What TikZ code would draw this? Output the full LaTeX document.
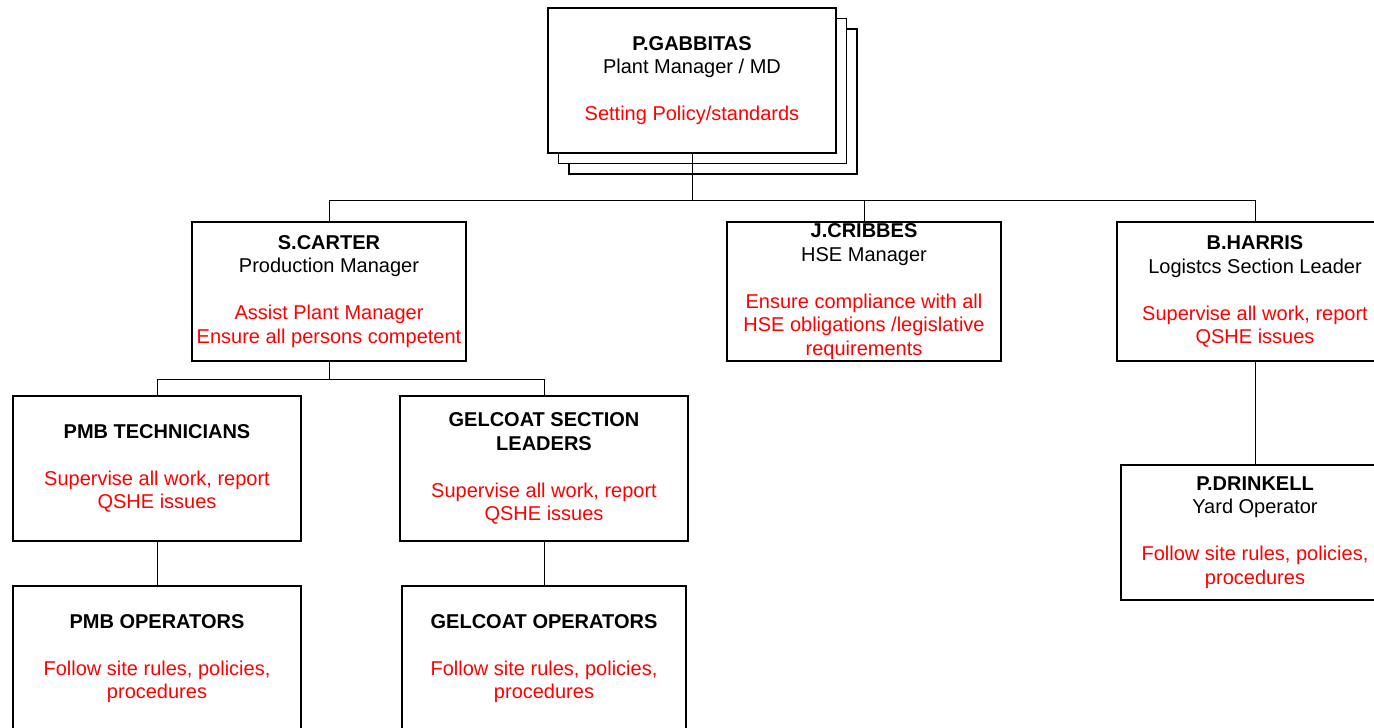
\documentclass[tikz,border=0pt]{standalone}
\usepackage{fontspec}
\setmainfont{Liberation Sans}
\begin{document}
\begin{tikzpicture}[x=1pt,y=-1pt,
  box/.style={draw=black,line width=1.4pt,fill=white,inner sep=0pt,align=center,
    font=\fontsize{20}{23.5}\selectfont},
  shadowbox/.style={draw=black,line width=1.4pt,fill=white},
  conn/.style={draw=black,line width=1pt}]
\useasboundingbox (0,0) rectangle (1374,728);
\clip (0,0) rectangle (1374,728);
% stacked shadows of top box
\draw[shadowbox] (569,29) rectangle (857,174);
\draw[shadowbox] (558.5,18.5) rectangle (846.5,163.5);
\newcommand{\nm}[1]{\textbf{#1}}
\newcommand{\rd}[1]{\textcolor{red}{#1}}
\node[box,minimum width=288pt,minimum height=145pt] (gab) at (692,80.5)
  {\nm{P.GABBITAS}\\Plant Manager / MD\\[23.5pt]\rd{Setting Policy/standards}};
\node[box,minimum width=274pt,minimum height=139pt] (carter) at (329,291.5)
  {\nm{S.CARTER}\\Production Manager\\[23.5pt]\rd{Assist Plant Manager}\\\rd{Ensure all persons competent}};
\node[box,minimum width=274pt,minimum height=139pt] (cribbes) at (864,291.5)
  {\nm{J.CRIBBES}\\HSE Manager\\[23.5pt]\rd{Ensure compliance with all}\\\rd{HSE obligations /legislative}\\\rd{requirements}};
\node[box,minimum width=276pt,minimum height=139pt] (harris) at (1255,291.5)
  {\nm{B.HARRIS}\\Logistcs Section Leader\\[23.5pt]\rd{Supervise all work, report}\\\rd{QSHE issues}};
\node[box,minimum width=288pt,minimum height=145pt] (pmbt) at (157,468.5)
  {\nm{PMB TECHNICIANS}\\[23.5pt]\rd{Supervise all work, report}\\\rd{QSHE issues}};
\node[box,minimum width=288pt,minimum height=145pt] (gsl) at (544,468.5)
  {\nm{GELCOAT SECTION}\\\nm{LEADERS}\\[23.5pt]\rd{Supervise all work, report}\\\rd{QSHE issues}};
\node[box,minimum width=288pt,minimum height=145pt] (pmbo) at (157,658.5)
  {\nm{PMB OPERATORS}\\[23.5pt]\rd{Follow site rules, policies,}\\\rd{procedures}};
\node[box,minimum width=284pt,minimum height=145pt] (gop) at (544,658.5)
  {\nm{GELCOAT OPERATORS}\\[23.5pt]\rd{Follow site rules, policies,}\\\rd{procedures}};
\node[box,minimum width=268pt,minimum height=135pt] (drink) at (1255,532.5)
  {\nm{P.DRINKELL}\\Yard Operator\\[23.5pt]\rd{Follow site rules, policies,}\\\rd{procedures}};
% connectors
\coordinate (bus1) at (692,200);
\coordinate (bus2) at (329,379);
\draw[conn] (gab.south) -- (bus1) -| (carter.north);
\draw[conn] (bus1) -| (cribbes.north);
\draw[conn] (bus1) -| (harris.north);
\draw[conn] (carter.south) -- (bus2) -| (pmbt.north);
\draw[conn] (bus2) -| (gsl.north);
\draw[conn] (pmbt.south) -- (pmbo.north);
\draw[conn] (gsl.south) -- (gop.north);
\draw[conn] (harris.south) -- (drink.north);
\end{tikzpicture}
\end{document}
